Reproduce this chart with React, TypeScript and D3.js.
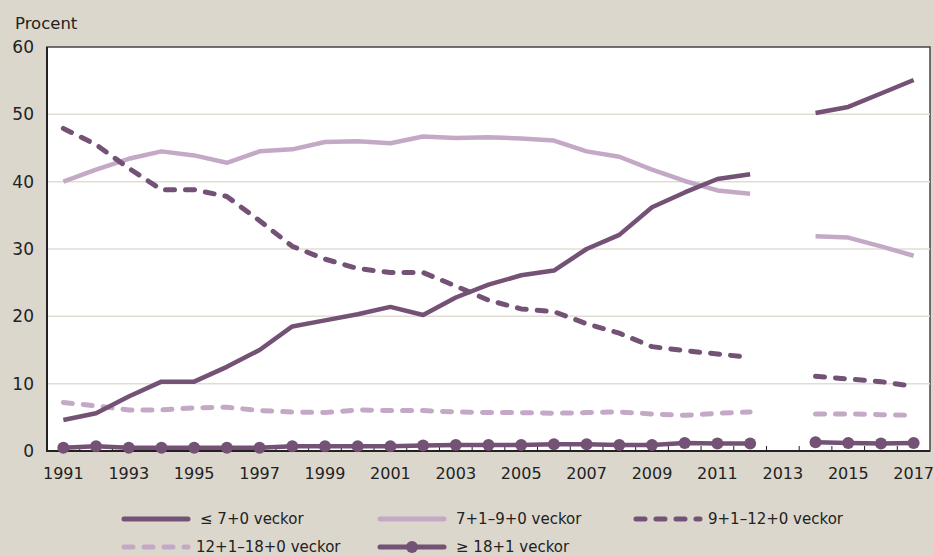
import { useEffect, useRef } from "react";
import * as d3 from "d3";

const years = [
  "1991", "1992", "1993", "1994", "1995", "1996", "1997", "1998", "1999",
  "2000", "2001", "2002", "2003", "2004", "2005", "2006", "2007", "2008",
  "2009", "2010", "2011", "2012", "2013", "2014", "2015", "2016", "2017",
];

const upTo7: (number | null)[] = [
  4.6, 5.6, 8.1, 10.3, 10.3, 12.5, 15.0, 18.5, 19.4, 20.3, 21.4, 20.2, 22.8,
  24.7, 26.1, 26.8, 30.0, 32.1, 36.2, 38.4, 40.4, 41.1, null, 50.2, 51.1, 53.1, 55.1,
];
const w7to9: (number | null)[] = [
  40.0, 41.8, 43.4, 44.5, 43.9, 42.8, 44.5, 44.8, 45.9, 46.0, 45.7, 46.7, 46.5,
  46.6, 46.4, 46.1, 44.5, 43.7, 41.8, 40.1, 38.7, 38.2, null, 31.9, 31.7, 30.4, 29.0,
];
const w9to12: (number | null)[] = [
  47.9, 45.5, 42.0, 38.8, 38.8, 37.8, 34.2, 30.4, 28.5, 27.1, 26.5, 26.5, 24.5,
  22.4, 21.1, 20.7, 18.9, 17.5, 15.5, 14.9, 14.4, 13.9, null, 11.1, 10.7, 10.3, 9.6,
];
const w12to18: (number | null)[] = [
  7.2, 6.7, 6.1, 6.1, 6.4, 6.5, 6.0, 5.8, 5.7, 6.1, 6.0, 6.0, 5.8,
  5.7, 5.7, 5.6, 5.7, 5.8, 5.5, 5.3, 5.6, 5.8, null, 5.5, 5.5, 5.4, 5.3,
];
const over18: (number | null)[] = [
  0.5, 0.7, 0.5, 0.5, 0.5, 0.5, 0.5, 0.7, 0.7, 0.7, 0.7, 0.8, 0.9,
  0.9, 0.9, 1.0, 1.0, 0.9, 0.9, 1.2, 1.1, 1.1, null, 1.3, 1.2, 1.1, 1.2,
];

const yTicks = [0, 10, 20, 30, 40, 50, 60];
const xLabels = ["1991", "1993", "1995", "1997", "1999", "2001", "2003", "2005", "2007", "2009", "2011", "2013", "2015", "2017"];

const DARK = "#735276";
const LIGHT = "#c4a9c6";
const BG = "#dcd7cc";
const FONT = "'DejaVu Sans', sans-serif";

const series = [
  { name: "≤ 7+0 veckor", values: upTo7, color: DARK, dash: null, marker: false },
  { name: "7+1–9+0 veckor", values: w7to9, color: LIGHT, dash: null, marker: false },
  { name: "9+1–12+0 veckor", values: w9to12, color: DARK, dash: "9,11", marker: false },
  { name: "12+1–18+0 veckor", values: w12to18, color: LIGHT, dash: "9,11", marker: false },
  { name: "≥ 18+1 veckor", values: over18, color: DARK, dash: null, marker: true },
];

export default function App() {
  const svgRef = useRef<SVGSVGElement>(null);

  useEffect(() => {
    const svg = d3.select(svgRef.current);
    svg.selectAll("*").remove();

    const width = 934;
    const height = 556;
    const left = 47, right = 930, top = 47, bottom = 451;

    svg.append("rect").attr("width", width).attr("height", height).attr("fill", BG);
    svg.append("rect")
      .attr("x", left).attr("y", top)
      .attr("width", right - left).attr("height", bottom - top)
      .attr("fill", "#fff").attr("stroke", "#444").attr("stroke-width", 1.5);

    const x = d3.scaleBand().domain(years).range([left, right]).padding(0);
    const y = d3.scaleLinear().domain([0, 60]).range([bottom, top]);
    const cx = (d: string) => (x(d) as number) + x.bandwidth() / 2;

    // grid
    svg.append("g")
      .selectAll("line")
      .data(yTicks.filter((t) => t > 0 && t < 60))
      .enter()
      .append("line")
      .attr("x1", left).attr("x2", right)
      .attr("y1", (d) => y(d)).attr("y2", (d) => y(d))
      .attr("stroke", "#e2ddd4").attr("stroke-width", 1.5);

    // y labels
    svg.append("g")
      .selectAll("text")
      .data(yTicks)
      .enter()
      .append("text")
      .attr("x", 34).attr("y", (d) => y(d))
      .attr("dy", "0.35em")
      .attr("text-anchor", "end")
      .attr("font-family", FONT).attr("font-size", 17).attr("fill", "#222")
      .text((d) => d);

    svg.append("text")
      .attr("x", 15).attr("y", 29)
      .attr("font-family", FONT).attr("font-size", 16.5).attr("fill", "#222")
      .text("Procent");

    // x ticks at band boundaries
    svg.append("g")
      .selectAll("line")
      .data(years.slice(1))
      .enter()
      .append("line")
      .attr("x1", (d) => x(d) as number).attr("x2", (d) => x(d) as number)
      .attr("y1", bottom).attr("y2", bottom - 5)
      .attr("stroke", "#222").attr("stroke-width", 1);

    svg.append("g")
      .selectAll("text")
      .data(xLabels)
      .enter()
      .append("text")
      .attr("x", (d) => cx(d)).attr("y", 479)
      .attr("text-anchor", "middle")
      .attr("font-family", FONT).attr("font-size", 16).attr("fill", "#222")
      .text((d) => d);

    // axes lines
    svg.append("line").attr("x1", left).attr("x2", left).attr("y1", top).attr("y2", bottom + 1)
      .attr("stroke", "#222").attr("stroke-width", 2);
    svg.append("line").attr("x1", left).attr("x2", right).attr("y1", bottom).attr("y2", bottom)
      .attr("stroke", "#222").attr("stroke-width", 2);

    const line = d3.line<number | null>()
      .defined((d) => d != null)
      .x((_, i) => cx(years[i]))
      .y((d) => y(d as number));

    const drawOrder = [3, 1, 2, 0, 4];
    drawOrder.forEach((si) => {
      const s = series[si];
      const p = svg.append("path")
        .datum(s.values)
        .attr("d", line)
        .attr("fill", "none")
        .attr("stroke", s.color)
        .attr("stroke-width", s.dash ? 5 : 4.5)
        .attr("stroke-linejoin", "round");
      if (s.dash) p.attr("stroke-dasharray", s.dash).attr("stroke-linecap", "round");
      if (s.marker) {
        svg.append("g")
          .selectAll("circle")
          .data(s.values.map((v, i) => ({ v, yr: years[i] })).filter((d) => d.v != null))
          .enter()
          .append("circle")
          .attr("cx", (d) => cx(d.yr))
          .attr("cy", (d) => y(d.v as number))
          .attr("r", 6)
          .attr("fill", s.color);
      }
    });

    // legend
    const legendPos = [
      { x: 122, y: 519 },
      { x: 378, y: 519 },
      { x: 634, y: 519 },
      { x: 122, y: 547 },
      { x: 378, y: 547 },
    ];
    series.forEach((s, i) => {
      const pos = legendPos[i];
      const g = svg.append("g").attr("transform", `translate(${pos.x},${pos.y})`);
      const ln = g.append("line")
        .attr("x1", 2).attr("x2", 66).attr("y1", 0).attr("y2", 0)
        .attr("stroke", s.color).attr("stroke-width", 5)
        .attr("stroke-linecap", "round");
      if (s.dash) ln.attr("stroke-dasharray", "9,11");
      if (s.marker) g.append("circle").attr("cx", 34).attr("r", 6).attr("fill", s.color);
      g.append("text")
        .attr("x", s.dash ? 74 : 78).attr("y", 0).attr("dy", "0.35em")
        .attr("font-family", FONT).attr("font-size", 15).attr("fill", "#222")
        .text(s.name);
    });
  }, []);

  return (
    <svg
      ref={svgRef}
      width={934}
      height={556}
      viewBox="0 0 934 556"
      style={{ position: "absolute", left: 0, top: 0, display: "block" }}
    />
  );
}
